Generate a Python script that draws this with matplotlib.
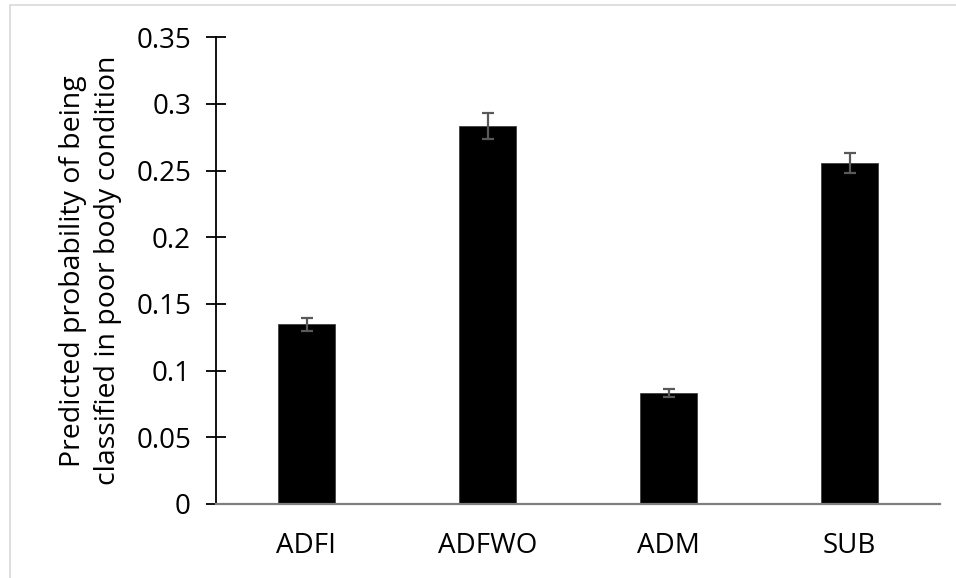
import matplotlib
matplotlib.use("Agg")
import matplotlib.pyplot as plt
from matplotlib.patches import Rectangle
import numpy as np

#---data---#
groups = ["ADFI", "ADFWO", "ADM", "SUB"]
prob = [0.1349, 0.2835, 0.0831, 0.2557]
err = [0.0049, 0.0096, 0.0030, 0.0076]
yticks = [0, 0.05, 0.1, 0.15, 0.2, 0.25, 0.3, 0.35]
ytick_labels = ["0", "0.05", "0.1", "0.15", "0.2", "0.25", "0.3", "0.35"]

plt.rcParams['font.family'] = ['Open Sans', 'DejaVu Sans']

fig = plt.figure(figsize=(9.56, 5.78), dpi=100)
ax = fig.add_axes([216/956, 74/578, 724/956, 466.7/578])

x = np.arange(len(groups))
ax.bar(x, prob, width=0.31, color="black", edgecolor="#404040", linewidth=0.6, zorder=2)
ax.errorbar(x, prob, yerr=err, fmt="none", ecolor="#595959", elinewidth=1.6,
            capsize=4.5, capthick=1.6, zorder=3)

ax.set_xlim(-0.5, len(groups) - 0.5)
ax.set_ylim(0, 0.35)
ax.set_yticks(yticks)
ax.set_yticklabels(ytick_labels)
ax.set_xticks(x)
ax.set_xticklabels(groups)

ax.tick_params(axis="y", direction="inout", length=14, width=1.3, pad=11, labelsize=20, colors="black")
ax.tick_params(axis="x", length=0, pad=20, labelsize=20)

for s in ["top", "right"]:
    ax.spines[s].set_visible(False)
ax.spines["left"].set_color("black")
ax.spines["left"].set_linewidth(1.3)
ax.spines["bottom"].set_color("#7f7f7f")
ax.spines["bottom"].set_linewidth(1.6)

ax.set_ylabel("Predicted probability of being\nclassified in poor body condition",
              fontsize=20.5, labelpad=10, linespacing=1.35)

# light chart border like excel
fig.patches.append(Rectangle((10/956, -0.05), 1.2, 1.05 - 5/578, transform=fig.transFigure,
                             fill=False, edgecolor="#d9d9d9", linewidth=1.2))

fig.savefig("out.png", dpi=100)
